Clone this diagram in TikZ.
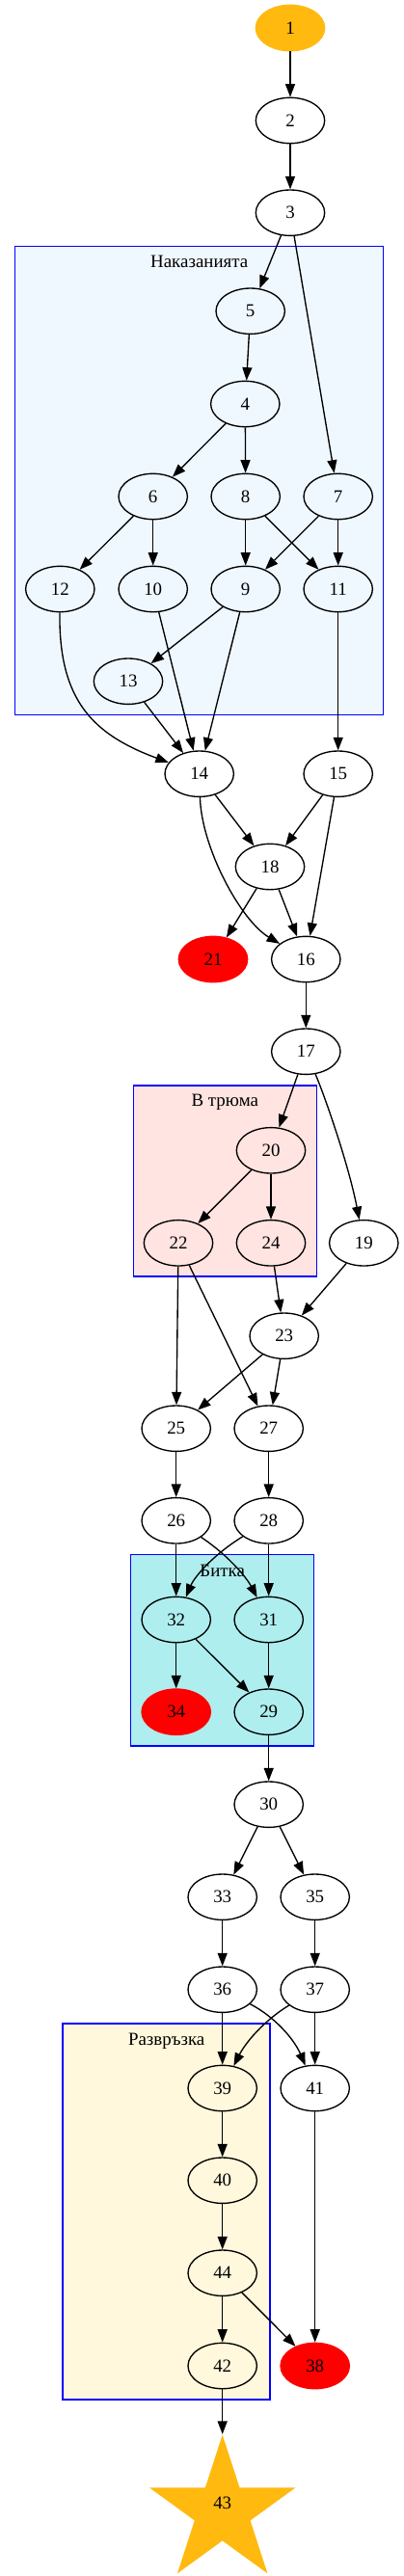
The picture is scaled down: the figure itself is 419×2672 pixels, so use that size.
\documentclass[tikz,border=0pt]{standalone}
\usepackage{fontspec}
\setmainfont{Liberation Serif}
\usetikzlibrary{shapes.geometric,arrows.meta}
\definecolor{goldn}{HTML}{FFB90F}
\definecolor{clA}{HTML}{F0F8FF}
\definecolor{clB}{HTML}{FFE4E1}
\definecolor{clC}{HTML}{AFEEEE}
\definecolor{clD}{HTML}{FFF8DC}
\begin{document}
\begin{tikzpicture}[x=1pt,y=-1pt,
  every node/.style={font=\fontsize{18.9}{22}\selectfont},
  nd/.style={ellipse, draw, line width=1.35pt, minimum width=71.4pt, minimum height=47.4pt, inner sep=0pt},
  rednd/.style={nd, draw=red, fill=red},
  goldnd/.style={nd, draw=goldn, fill=goldn},
  edge/.style={line width=1.35pt, -{Triangle[length=13.5pt,width=10pt]}},
  clus/.style={draw=blue, line width=1.35pt},
  clab/.style={anchor=base, inner sep=0pt}]
\useasboundingbox (0,0) rectangle (419,2672);
% clusters
\draw[clus, fill=clA] (15.7,255.7) rectangle (397.7,741.7);
\draw[clus, fill=clB] (138.3,1126) rectangle (328.3,1324);
\draw[clus, fill=clC] (135.7,1612.3) rectangle (325.7,1811);
\draw[clus, fill=clD] (65,2099) rectangle (280,2489);
\node[clab] (labA) at (206.7,277.7) {Наказанията};
\node[clab] (labB) at (233.3,1147.7) {В трюма};
\node[clab] (labC) at (230.7,1635) {Битка};
\node[clab] (labD) at (172.7,2121) {Развръзка};
% nodes
\node[goldnd] (n1) at (301,29) {1};
\node[nd] (n2) at (301,125) {2};
\node[nd] (n3) at (301,220.7) {3};
\node[nd] (n5) at (259.7,322.7) {5};
\node[nd] (n4) at (254.3,419) {4};
\node[nd] (n6) at (158.7,515) {6};
\node[nd] (n8) at (254.7,515) {8};
\node[nd] (n7) at (350.7,515) {7};
\node[nd] (n12) at (62.3,611) {12};
\node[nd] (n10) at (158.7,611) {10};
\node[nd] (n9) at (254.7,611) {9};
\node[nd] (n11) at (350.7,611) {11};
\node[nd] (n13) at (133,706.7) {13};
\node[nd] (n14) at (206.7,802.7) {14};
\node[nd] (n15) at (350.7,802.7) {15};
\node[nd] (n18) at (280,899) {18};
\node[rednd] (n21) at (221,995) {21};
\node[nd] (n16) at (317.3,995) {16};
\node[nd] (n17) at (317.3,1090.7) {17};
\node[nd] (n20) at (281,1193.3) {20};
\node[nd] (n22) at (185,1289.3) {22};
\node[nd] (n24) at (281,1289.3) {24};
\node[nd] (n19) at (377.3,1289.3) {19};
\node[nd] (n23) at (294.7,1385.7) {23};
\node[nd] (n25) at (182.7,1481.7) {25};
\node[nd] (n27) at (278.7,1481.7) {27};
\node[nd] (n26) at (182.7,1577.3) {26};
\node[nd] (n28) at (278.7,1577.3) {28};
\node[nd] (n32) at (182.7,1680) {32};
\node[nd] (n31) at (278.7,1680) {31};
\node[rednd] (n34) at (182.7,1775.7) {34};
\node[nd] (n29) at (278.7,1775.7) {29};
\node[nd] (n30) at (278.7,1871.7) {30};
\node[nd] (n33) at (230.7,1967.7) {33};
\node[nd] (n35) at (326.7,1967.7) {35};
\node[nd] (n36) at (230.7,2063.7) {36};
\node[nd] (n37) at (326.7,2063.7) {37};
\node[nd] (n39) at (230.7,2166) {39};
\node[nd] (n41) at (326.7,2166) {41};
\node[nd] (n40) at (230.7,2261.7) {40};
\node[nd] (n44) at (230.7,2357.7) {44};
\node[nd] (n42) at (230.7,2454) {42};
\node[rednd] (n38) at (326.7,2454) {38};
\node[star, star points=5, star point ratio=2.618, minimum size=159pt, inner sep=0pt,
      fill=goldn, text height=12.7pt, text depth=18pt] (n43) at (230.7,2605) {43};
% edges
\draw[edge] (n1) -- (n2);
\draw[edge] (n2) -- (n3);
\draw[edge] (n3) -- (n5);
\draw[edge] (n3) -- (n7);
\draw[edge] (n5) -- (n4);
\draw[edge] (n4) -- (n6);
\draw[edge] (n4) -- (n8);
\draw[edge] (n6) -- (n12);
\draw[edge] (n6) -- (n10);
\draw[edge] (n8) -- (n9);
\draw[edge] (n8) -- (n11);
\draw[edge] (n7) -- (n9);
\draw[edge] (n7) -- (n11);
\draw[edge] (n9) -- (n13);
\draw[edge] (n9) -- (n14);
\draw[edge] (n10) -- (n14);
\draw[edge] (n12) .. controls (60.7,727) and (97,762) .. (n14);
\draw[edge] (n13) -- (n14);
\draw[edge] (n11) -- (n15);
\draw[edge] (n14) -- (n18);
\draw[edge] (n14) .. controls (209,880) and (250,955) .. (n16);
\draw[edge] (n15) -- (n18);
\draw[edge] (n15) -- (n16);
\draw[edge] (n18) -- (n21);
\draw[edge] (n18) -- (n16);
\draw[edge] (n16) -- (n17);
\draw[edge] (n17) -- (n20);
\draw[edge] (n17) .. controls (338,1140) and (362,1210) .. (n19);
\draw[edge] (n20) -- (n22);
\draw[edge] (n20) -- (n24);
\draw[edge] (n22) -- (n25);
\draw[edge] (n22) -- (n27);
\draw[edge] (n24) -- (n23);
\draw[edge] (n19) -- (n23);
\draw[edge] (n23) -- (n25);
\draw[edge] (n23) -- (n27);
\draw[edge] (n25) -- (n26);
\draw[edge] (n27) -- (n28);
\draw[edge] (n26) -- (n32);
\draw[edge] (n26) .. controls (235,1612) and (255,1635) .. (n31);
\draw[edge] (n28) .. controls (222,1612) and (202,1635) .. (n32);
\draw[edge] (n28) -- (n31);
\draw[edge] (n32) -- (n34);
\draw[edge] (n32) -- (n29);
\draw[edge] (n31) -- (n29);
\draw[edge] (n29) -- (n30);
\draw[edge] (n30) -- (n33);
\draw[edge] (n30) -- (n35);
\draw[edge] (n33) -- (n36);
\draw[edge] (n35) -- (n37);
\draw[edge] (n36) -- (n39);
\draw[edge] (n36) .. controls (285,2092) and (305,2115) .. (n41);
\draw[edge] (n37) .. controls (275,2095) and (255,2118) .. (n39);
\draw[edge] (n37) -- (n41);
\draw[edge] (n39) -- (n40);
\draw[edge] (n40) -- (n44);
\draw[edge] (n44) -- (n42);
\draw[edge] (n44) -- (n38);
\draw[edge] (n41) -- (n38);
\draw[edge] (n42) -- (n43);
\end{tikzpicture}
\end{document}
